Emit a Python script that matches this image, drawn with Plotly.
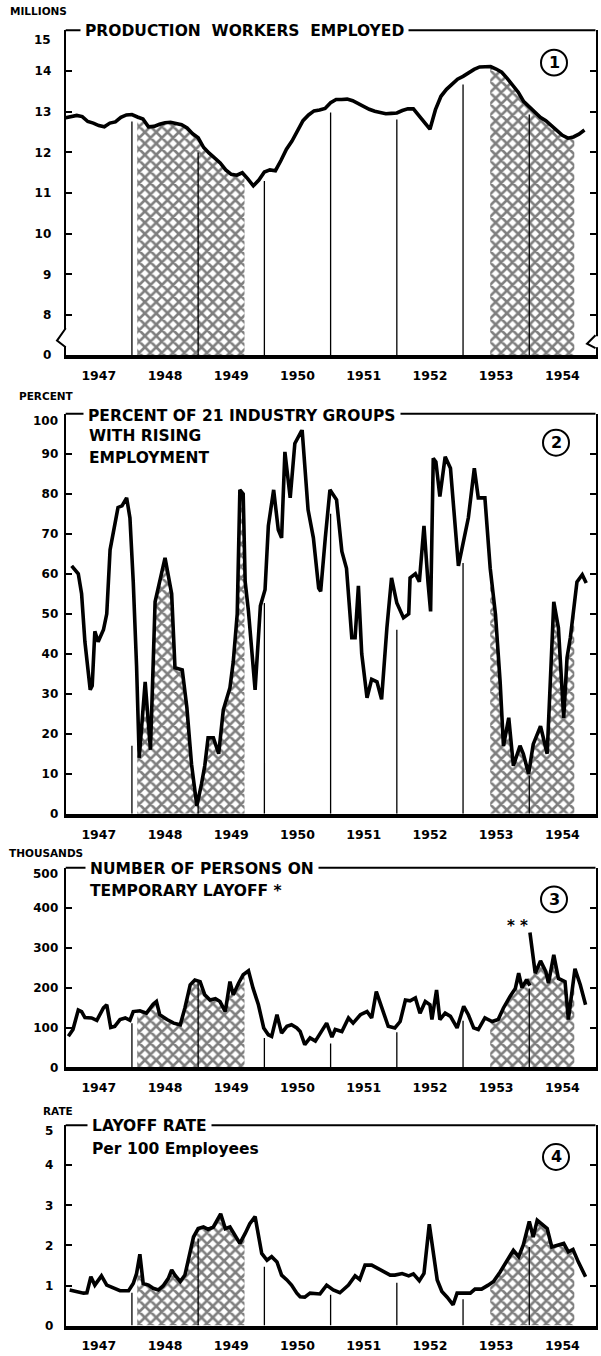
import numpy as np
import plotly.graph_objects as go

W, H = 601, 1356
FONT = "DejaVu Sans"

# ---------------- data ----------------
years = [1947, 1948, 1949, 1950, 1951, 1952, 1953, 1954]
year_labels = [str(y) for y in years]
boundary_years = [1948, 1949, 1950, 1951, 1952, 1953, 1954]
shade_windows = [(1948.08, 1949.70), (1953.41, 1954.68)]

# Panel 1: production workers employed (millions), monthly Jan 1947 - Nov 1954
p1_values = [12.85, 12.88, 12.91, 12.88, 12.76, 12.72, 12.66, 12.63, 12.72, 12.75,
             12.86, 12.92, 12.93, 12.87, 12.82, 12.63, 12.64, 12.69, 12.73, 12.74,
             12.72, 12.68, 12.60, 12.46, 12.36, 12.12, 11.98, 11.86, 11.74, 11.57,
             11.46, 11.44, 11.50, 11.35, 11.18, 11.32, 11.52, 11.57, 11.55, 11.80,
             12.08, 12.28, 12.55, 12.78, 12.92, 13.02, 13.04, 13.08, 13.22, 13.30,
             13.30, 13.31, 13.27, 13.20, 13.12, 13.06, 13.01, 12.97, 12.95, 12.96,
             12.97, 13.03, 13.07, 13.07, 12.90, 12.72, 12.57, 13.05, 13.38, 13.55,
             13.68, 13.80, 13.87, 13.96, 14.04, 14.10, 14.11, 14.11, 14.05, 13.97,
             13.82, 13.66, 13.48, 13.25, 13.12, 13.00, 12.86, 12.78, 12.66, 12.56,
             12.42, 12.35, 12.38, 12.45, 12.55]
p1_x = [1947 + i / 12 for i in range(len(p1_values))]

# Panel 2: percent of 21 industry groups with rising employment
p2_x = [1947.09, 1947.19, 1947.24, 1947.29, 1947.37, 1947.40, 1947.44, 1947.49, 1947.57, 1947.62,
        1947.67, 1947.74, 1947.79, 1947.85, 1947.92, 1947.97, 1948.02, 1948.07, 1948.11, 1948.20,
        1948.28, 1948.35, 1948.42, 1948.50, 1948.60, 1948.65, 1948.76, 1948.83, 1948.90, 1948.98,
        1949.05, 1949.10, 1949.15, 1949.23, 1949.31, 1949.38, 1949.48, 1949.53, 1949.59, 1949.63,
        1949.68, 1949.71, 1949.76, 1949.81, 1949.86, 1949.94, 1950.01, 1950.06, 1950.14, 1950.21,
        1950.26, 1950.31, 1950.39, 1950.46, 1950.57, 1950.66, 1950.74, 1950.82, 1950.85, 1950.92,
        1950.99, 1951.09, 1951.17, 1951.24, 1951.32, 1951.37, 1951.42, 1951.47, 1951.55, 1951.62,
        1951.70, 1951.77, 1951.85, 1951.92, 1952.00, 1952.10, 1952.18, 1952.20, 1952.28, 1952.34,
        1952.41, 1952.47, 1952.51, 1952.55, 1952.59, 1952.65, 1952.73, 1952.81, 1952.86, 1952.93,
        1953.08, 1953.17, 1953.23, 1953.33, 1953.41, 1953.49, 1953.56, 1953.61, 1953.69, 1953.76,
        1953.86, 1953.91, 1953.99, 1954.06, 1954.17, 1954.27, 1954.37, 1954.44, 1954.52, 1954.57,
        1954.62, 1954.72, 1954.80, 1954.86]
p2_values = [62, 60, 55, 43, 31, 32, 45.6, 43, 46, 50,
             66, 72, 76.6, 77, 79, 74, 58, 37, 14, 33,
             16, 53, 58, 64, 55, 36.5, 36, 26.5, 12.4, 2,
             7.4, 12, 19, 19, 15, 26, 31.5, 38, 50, 81,
             80, 58, 50.6, 40, 31, 52, 56, 72, 81, 71,
             69, 90.5, 79, 92.6, 96, 76, 69, 56.4, 55.6, 69,
             81, 78.5, 65.6, 61.4, 44, 44, 57, 40, 29, 33.6,
             33, 28.6, 46.5, 59, 52.7, 49, 50, 59, 60, 58,
             72, 58, 50.6, 88.9, 88, 79.3, 89.3, 86.4, 76, 62,
             74, 86.4, 79, 79, 61.4, 49.8, 33, 17, 24, 12,
             17, 15, 10, 17.4, 21.9, 15, 53, 46.5, 24, 39,
             44, 58, 59.8, 57.7]

# Panel 3: number of persons on temporary layoff (thousands)
p3_old_x = [1947.04, 1947.11, 1947.19, 1947.24, 1947.29, 1947.39, 1947.47, 1947.57, 1947.62, 1947.68,
            1947.74, 1947.82, 1947.90, 1947.97, 1948.02, 1948.12, 1948.22, 1948.32, 1948.37, 1948.42,
            1948.53, 1948.63, 1948.73, 1948.80, 1948.88, 1948.95, 1949.03, 1949.10, 1949.18, 1949.26,
            1949.33, 1949.41, 1949.48, 1949.53, 1949.61, 1949.68, 1949.76, 1949.83, 1949.91, 1949.99,
            1950.06, 1950.11, 1950.19, 1950.26, 1950.34, 1950.41, 1950.49, 1950.54, 1950.61, 1950.69,
            1950.77, 1950.84, 1950.94, 1951.02, 1951.07, 1951.17, 1951.27, 1951.34, 1951.45, 1951.55,
            1951.62, 1951.69, 1951.77, 1951.87, 1951.97, 1952.05, 1952.13, 1952.20, 1952.28, 1952.35,
            1952.43, 1952.50, 1952.53, 1952.60, 1952.65, 1952.73, 1952.81, 1952.91, 1953.01, 1953.08,
            1953.16, 1953.23, 1953.33, 1953.44, 1953.53, 1953.61, 1953.71, 1953.79, 1953.84, 1953.89,
            1953.96, 1954.01]
p3_old_values = [78, 95, 144, 140, 125, 124, 118, 149, 157, 100,
                 103, 120, 124, 118, 140, 142, 136, 158, 165, 132,
                 120, 111, 107, 149, 207, 219, 215, 182, 169, 172,
                 165, 140, 215, 182, 211, 232, 242, 198, 157, 99,
                 82, 78, 132, 86, 103, 107, 99, 90, 57, 74,
                 66, 86, 111, 76, 95, 90, 124, 111, 132, 140,
                 124, 190, 149, 103, 99, 115, 169, 167, 174, 136,
                 165, 157, 120, 194, 120, 136, 128, 99, 153, 132,
                 99, 95, 124, 115, 120, 149, 178, 198, 236, 200,
                 220, 205]
p3_new_x = [1954.01, 1954.09, 1954.17, 1954.25, 1954.29, 1954.37, 1954.44, 1954.54, 1954.59, 1954.69,
            1954.77, 1954.85]
p3_new_values = [338, 236, 267, 240, 211, 282, 223, 215, 120, 247, 207, 157]

# Panel 4: layoff rate per 100 employees
p4_x = [1947.06, 1947.17, 1947.27, 1947.32, 1947.38, 1947.44, 1947.54, 1947.62, 1947.72, 1947.82,
        1947.95, 1948.02, 1948.07, 1948.12, 1948.17, 1948.25, 1948.32, 1948.40, 1948.47, 1948.55,
        1948.60, 1948.65, 1948.73, 1948.80, 1948.85, 1948.93, 1949.00, 1949.08, 1949.15, 1949.23,
        1949.34, 1949.41, 1949.48, 1949.56, 1949.63, 1949.71, 1949.78, 1949.86, 1949.91, 1949.96,
        1950.04, 1950.11, 1950.19, 1950.26, 1950.34, 1950.41, 1950.49, 1950.54, 1950.61, 1950.69,
        1950.84, 1950.94, 1951.04, 1951.14, 1951.27, 1951.37, 1951.44, 1951.52, 1951.62, 1951.75,
        1951.90, 1951.97, 1952.08, 1952.18, 1952.25, 1952.34, 1952.41, 1952.49, 1952.55, 1952.61,
        1952.68, 1952.76, 1952.85, 1952.91, 1953.01, 1953.11, 1953.18, 1953.28, 1953.38, 1953.46,
        1953.56, 1953.66, 1953.76, 1953.84, 1953.91, 1954.00, 1954.06, 1954.12, 1954.19, 1954.27,
        1954.34, 1954.44, 1954.52, 1954.59, 1954.66, 1954.74, 1954.85]
p4_values = [0.89, 0.85, 0.81, 0.82, 1.22, 1.01, 1.24, 1.01, 0.93, 0.87,
             0.87, 1.05, 1.30, 1.78, 1.05, 1.01, 0.93, 0.89, 0.99, 1.18,
             1.39, 1.26, 1.10, 1.26, 1.63, 2.21, 2.42, 2.46, 2.40, 2.46,
             2.79, 2.42, 2.46, 2.25, 2.05, 2.30, 2.54, 2.72, 2.21, 1.80,
             1.63, 1.72, 1.59, 1.26, 1.14, 1.01, 0.81, 0.72, 0.71, 0.81,
             0.79, 1.01, 0.89, 0.82, 1.01, 1.24, 1.15, 1.51, 1.51, 1.39,
             1.26, 1.26, 1.30, 1.24, 1.29, 1.12, 1.30, 2.53, 1.80, 1.14,
             0.85, 0.71, 0.52, 0.81, 0.81, 0.81, 0.91, 0.91, 1.01, 1.10,
             1.34, 1.59, 1.88, 1.72, 2.01, 2.60, 2.21, 2.63, 2.54, 2.42,
             1.96, 2.01, 2.05, 1.84, 1.90, 1.59, 1.22]

# heights reached by the thin year-divider lines (value units)
p1_dividers = [12.76, 12.0, 11.30, 12.98, 12.81, 13.67, 12.93]
p2_dividers = [17, 2, 52.7, 75, 46, 62.7, 9.5]
p3_dividers = [111, 215, 74, 60, 88, 117, 198]
p4_dividers = [0.82, 2.17, 1.47, 0.77, 1.07, 0.66, 1.96]

# ---------------- layout helpers ----------------
def pxx(px):
    return px / W

def pxy(py):
    return 1 - py / H

X_LEFT, X_RIGHT = 65.7, 595.5

panels = [
    dict(series=[(p1_x, p1_values)], top=30.5, bottom=357, yrange=[7.017, 15],
         tickvals=[7.017, 8, 9, 10, 11, 12, 13, 14],
         ticktext=["0", "8", "9", "10", "11", "12", "13", "14"],
         toplabel="15", toplabel_y=40, toplabel_x=53, dividers=p1_dividers, unit="MILLIONS",
         unit_pos=(8, 11), standoff=10,
         titles=[("PRODUCTION  WORKERS  EMPLOYED", 85, 31, True)],
         circle=(554, 63, "1")),
    dict(series=[(p2_x, p2_values)], top=416, bottom=818, yrange=[0, 100],
         tickvals=[0, 10, 20, 30, 40, 50, 60, 70, 80, 90],
         ticktext=["0", "10", "20", "30", "40", "50", "60", "70", "80", "90"],
         toplabel="100", toplabel_y=423, toplabel_x=60, dividers=p2_dividers, unit="PERCENT",
         unit_pos=(17, 398), standoff=3,
         titles=[("PERCENT OF 21 INDUSTRY GROUPS", 88, 418, True),
                 ("WITH RISING", 89, 438.5, False),
                 ("EMPLOYMENT", 89, 460, False)],
         circle=(556, 445, "2")),
    dict(series=[(p3_old_x, p3_old_values), (p3_new_x, p3_new_values)], top=872.3, bottom=1073,
         yrange=[0, 500], tickvals=[0, 100, 200, 300, 400],
         ticktext=["0", "100", "200", "300", "400"],
         toplabel="500", toplabel_y=879, toplabel_x=60, dividers=p3_dividers, unit="THOUSANDS",
         unit_pos=(7, 857), standoff=3,
         titles=[("NUMBER OF PERSONS ON", 90, 874, True),
                 ("TEMPORARY LAYOFF *", 90, 896, False)],
         circle=(554, 904, "3")),
    dict(series=[(p4_x, p4_values)], top=1131, bottom=1332.5, yrange=[0, 5],
         tickvals=[0, 1, 2, 3, 4], ticktext=["0", "1", "2", "3", "4"],
         toplabel="5", toplabel_y=1137, toplabel_x=55, dividers=p4_dividers, unit="RATE",
         unit_pos=(41, 1117), standoff=8,
         titles=[("LAYOFF RATE", 92, 1132, True),
                 ("Per 100 Employees", 92, 1155, False)],
         circle=(556, 1163, "4")),
]

fig = go.Figure()
layout = dict(width=W, height=H, margin=dict(l=0, r=0, t=0, b=0), autosize=False,
              paper_bgcolor="white", plot_bgcolor="white", showlegend=False,
              font=dict(family=FONT, color="black"))
shapes = []
annotations = []

pattern = dict(shape="x", fgcolor="black", bgcolor="white", size=8, solidity=0.55)

for k, p in enumerate(panels, start=1):
    xa = "x" if k == 1 else f"x{k}"
    ya = "y" if k == 1 else f"y{k}"
    xkey = "xaxis" if k == 1 else f"xaxis{k}"
    ykey = "yaxis" if k == 1 else f"yaxis{k}"
    layout[xkey] = dict(domain=[pxx(X_LEFT), pxx(X_RIGHT)], range=[1947, 1955], anchor=ya,
                        tickvals=[y + 0.5 for y in years], ticktext=year_labels,
                        ticks="", showgrid=False, zeroline=False, showline=True,
                        linecolor="black", linewidth=3.5,
                        tickfont=dict(family=FONT, size=12.5, color="black", weight="bold"),
                        ticklabelstandoff=6)
    layout[ykey] = dict(domain=[pxy(p["bottom"]), pxy(p["top"])], range=p["yrange"], anchor=xa,
                        tickvals=p["tickvals"], ticktext=p["ticktext"], ticks="inside",
                        ticklen=6, tickwidth=2, tickcolor="black", showline=True,
                        linecolor="black", linewidth=2, mirror="ticks", showgrid=False,
                        zeroline=False,
                        tickfont=dict(family=FONT, size=12, color="black", weight="bold"),
                        ticklabelstandoff=p["standoff"])

    # combined series for the shaded areas (old series until break, then new series)
    if len(p["series"]) == 2:
        ox, ov = p["series"][0]
        nx, nv = p["series"][1]
        sx = list(ox[:-1]) + list(nx[1:])
        sv = list(ov[:-1]) + list(nv[1:])
    else:
        sx, sv = p["series"][0]
    sx = np.array(sx, dtype=float)
    sv = np.array(sv, dtype=float)
    for a, b in shade_windows:
        inside = (sx > a) & (sx < b)
        xs = np.concatenate([[a], sx[inside], [b]])
        ys = np.interp(xs, sx, sv)
        fig.add_trace(go.Scatter(x=xs, y=ys, xaxis=xa, yaxis=ya, mode="lines",
                                 line=dict(width=0, color="black"), fill="tozeroy",
                                 fillcolor="white", fillpattern=pattern, hoverinfo="skip"))

    # year dividers
    for yr, top in zip(boundary_years, p["dividers"]):
        shapes.append(dict(type="line", xref=xa, yref=ya, x0=yr, x1=yr,
                           y0=p["yrange"][0], y1=top, layer="above",
                           line=dict(color="black", width=1.3)))

    # data lines
    for xs_, vs_ in p["series"]:
        fig.add_trace(go.Scatter(x=xs_, y=vs_, xaxis=xa, yaxis=ya, mode="lines",
                                 line=dict(color="black", width=3.6, shape="linear"),
                                 hoverinfo="skip"))

    # top frame line
    shapes.append(dict(type="line", xref=f"{xa} domain", yref=f"{ya} domain",
                       x0=0, x1=1, y0=1, y1=1, layer="above",
                       line=dict(color="black", width=2)))

    # top tick label (drawn slightly below the frame corner)
    annotations.append(dict(text=p["toplabel"], xref="paper", yref="paper",
                            x=pxx(p["toplabel_x"]), y=pxy(p["toplabel_y"]), xanchor="right",
                            yanchor="middle", showarrow=False,
                            font=dict(family=FONT, size=12, color="black", weight="bold")))
    # unit label
    ux, uy = p["unit_pos"]
    annotations.append(dict(text=p["unit"], xref="paper", yref="paper", x=pxx(ux), y=pxy(uy),
                            xanchor="left", yanchor="middle", showarrow=False,
                            font=dict(family=FONT, size=10.5, color="black", weight="bold")))
    # titles
    for text, tx, ty, bg in p["titles"]:
        ann = dict(text=text, xref="paper", yref="paper", x=pxx(tx - 5), y=pxy(ty),
                   xanchor="left", yanchor="middle", showarrow=False, borderpad=4,
                   font=dict(family=FONT, size=15.5, color="black", weight="bold"))
        if bg:
            ann["bgcolor"] = "white"
        annotations.append(ann)
    # circled panel number
    cx, cy, num = p["circle"]
    r = 13
    shapes.append(dict(type="circle", xref="paper", yref="paper",
                       x0=pxx(cx - r), x1=pxx(cx + r), y0=pxy(cy + r), y1=pxy(cy - r),
                       line=dict(color="black", width=2), layer="above"))
    annotations.append(dict(text=num, xref="paper", yref="paper", x=pxx(cx), y=pxy(cy),
                            xanchor="center", yanchor="middle", showarrow=False,
                            font=dict(family=FONT, size=16, color="black", weight="bold")))

# "**" marker at the revised series in panel 3
annotations.append(dict(text="* *", xref="paper", yref="paper", x=pxx(517), y=pxy(931),
                        xanchor="center", yanchor="middle", showarrow=False,
                        font=dict(family=FONT, size=15, color="black", weight="bold")))

# scale break (zigzag) on panel 1 axes
for (ax, tip, ya0, ya1) in [(X_LEFT, 57, 330, 349), (X_RIGHT, 587, 337, 350)]:
    shapes.append(dict(type="rect", xref="paper", yref="paper",
                       x0=pxx(ax - 2.5), x1=pxx(ax + 2.5), y0=pxy(ya1 - 1), y1=pxy(ya0 + 1),
                       fillcolor="white", line=dict(width=0), layer="above"))
    mid = ya0 + (ya1 - ya0) * 0.65
    path = (f"M {pxx(ax)},{pxy(ya0)} L {pxx(tip)},{pxy(mid)} L {pxx(ax)},{pxy(ya1)}")
    shapes.append(dict(type="path", xref="paper", yref="paper", path=path,
                       line=dict(color="black", width=2), layer="above"))

layout["shapes"] = shapes
layout["annotations"] = annotations
fig.update_layout(**layout)
fig.write_html("out.html", config={"displayModeBar": False},
               post_script="document.body.style.margin='0px';document.body.style.overflow='hidden';")
